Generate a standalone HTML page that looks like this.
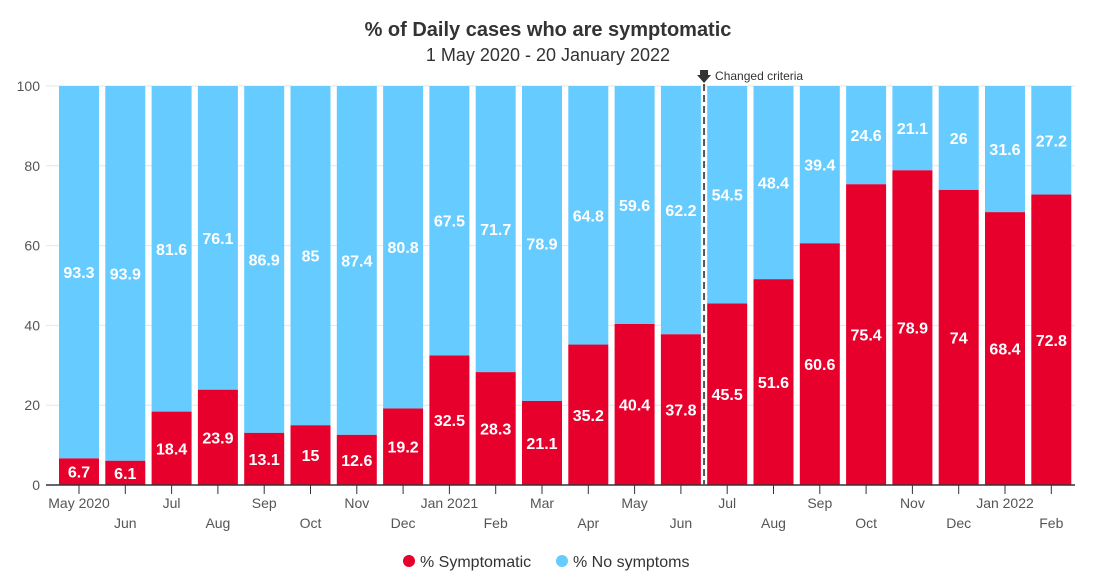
<!DOCTYPE html>
<html><head><meta charset="utf-8"><style>
body{margin:0;background:#fff;width:1109px;height:580px;overflow:hidden;font-family:"Liberation Sans Narrow","Liberation Sans",sans-serif;}
</style></head><body>
<svg id="chart" width="1109" height="580">
<text x="548" y="36" text-anchor="middle" font-size="20" font-weight="bold" fill="#333">% of Daily cases who are symptomatic</text>
<text x="548" y="61" text-anchor="middle" font-size="18" fill="#333">1 May 2020 - 20 January 2022</text>
<g id="grid"></g><g id="bars"></g><g id="axes"></g>
<g>
<g><circle cx="409" cy="561" r="6" fill="#e8002d"/><text x="420" y="567" font-size="16" fill="#333">% Symptomatic</text></g>
<g><circle cx="562" cy="561" r="6" fill="#66ccff"/><text x="573" y="567" font-size="16" fill="#333">% No symptoms</text></g>
</g>
</svg>
<script>
const categories=["May 2020","Jun","Jul","Aug","Sep","Oct","Nov","Dec","Jan 2021","Feb","Mar","Apr","May","Jun","Jul","Aug","Sep","Oct","Nov","Dec","Jan 2022","Feb"];
const symptomatic=[6.7,6.1,18.4,23.9,13.1,15,12.6,19.2,32.5,28.3,21.1,35.2,40.4,37.8,45.5,51.6,60.6,75.4,78.9,74,68.4,72.8];
const noSymptoms=[93.3,93.9,81.6,76.1,86.9,85,87.4,80.8,67.5,71.7,78.9,64.8,59.6,62.2,54.5,48.4,39.4,24.6,21.1,26,31.6,27.2];
const yTicks=[0,20,40,60,80,100];
const NS="http://www.w3.org/2000/svg";
const x0=55.85,step=46.3,bw=40,yb=485,yt=86;
const y=v=>yb-(v/100)*(yb-yt);
const xs=i=>x0+i*step+(step-bw)/2;
function mk(t,a,p){const e=document.createElementNS(NS,t);for(const k in a)e.setAttribute(k,a[k]);p.appendChild(e);return e;}
const grid=document.getElementById('grid'),bars=document.getElementById('bars'),axes=document.getElementById('axes');
yTicks.forEach(v=>{
 const l=mk('line',{x1:46,x2:1075,y1:y(v),y2:y(v),stroke:'#e6e6e6'},grid);
 
 
 const t=mk('text',{x:40,y:y(v)+5,'text-anchor':'end','font-size':14,fill:'#555'},axes);t.textContent=v;
 
 
});
categories.forEach((c,i)=>{
 const x=xs(i),s=symptomatic[i],n=noSymptoms[i];
 const r1=mk('rect',{x:x,y:y(s),width:bw,height:yb-y(s),fill:'#e8002d'},bars);
 
 
 const r2=mk('rect',{x:x,y:y(s+n),width:bw,height:y(s)-y(s+n),fill:'#66ccff'},bars);
 
 
 const t1=mk('text',{x:x+bw/2,y:(y(s)+yb)/2+6,'text-anchor':'middle','font-size':16,'font-weight':'bold',fill:'#fff'},bars);t1.textContent=s;
 
 
 const t2=mk('text',{x:x+bw/2,y:(y(s)+y(s+n))/2+6,'text-anchor':'middle','font-size':16,'font-weight':'bold',fill:'#fff'},bars);t2.textContent=n;
 
 
 const cx=x+bw/2;
 mk('line',{x1:cx,x2:cx,y1:yb,y2:yb+9,stroke:'#333'},axes);
 const tl=mk('text',{x:cx,y:i%2?528:508,'text-anchor':'middle','font-size':14,fill:'#555'},axes);tl.textContent=c;
 
 
});
const ax=mk('line',{x1:46,x2:1075,y1:yb,y2:yb,stroke:'#333','stroke-width':1.5},axes);


const dx=x0+14*step;
const dl=mk('line',{x1:dx,x2:dx,y1:yt-2,y2:yb,stroke:'#555','stroke-width':2,'stroke-dasharray':'7,4'},axes);


const ar=mk('path',{d:`M${dx-4} 70h8v5h3l-7 8l-7-8h3z`,fill:'#333'},axes);


const at=mk('text',{x:dx+11,y:80,'font-size':12,fill:'#333'},axes);at.textContent='Changed criteria';


</script>
</body></html>
